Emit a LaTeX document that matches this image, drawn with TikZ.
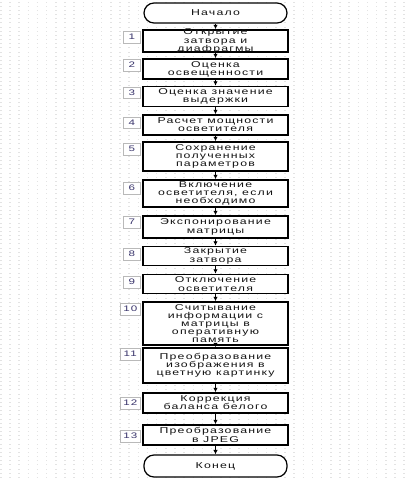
\documentclass[tikz,border=0pt]{standalone}
\usepackage{fontspec}
\newfontfamily\flowfont[FakeStretch=1.45,LetterSpace=14]{Liberation Sans}
\usetikzlibrary{arrows.meta}
\definecolor{numcol}{rgb}{0.22,0.2,0.42}
\definecolor{textcol}{rgb}{0.08,0.08,0.08}
\begin{document}
\begin{tikzpicture}[x=1pt, y=-1pt,
  every node/.style={font=\flowfont\fontsize{8.5}{8.2}\selectfont, text=textcol},
  griddot/.style={draw=gray!22, line width=0.8pt, dash pattern=on 1.5pt off 7.67pt},
  stepbox/.style={draw, line width=1.5pt, fill=white, minimum width=145pt, inner sep=0pt},
  steptext/.style={align=center, inner sep=0pt},
  termbox/.style={draw, line width=1.2pt, fill=white, rounded corners=10pt, minimum width=143pt, inner sep=0pt},
  numbox/.style={draw=gray!55, fill=white, text=numcol, minimum width=17pt, minimum height=11.5pt,
    inner sep=1pt, anchor=east, font=\flowfont\fontsize{8}{8}\selectfont},
  flow/.style={-{Latex[length=4.5pt,width=4.5pt]}, line width=1pt}]
  \useasboundingbox (0,0) rectangle (410,479);

  % dotted sheet
  \foreach \y in {2,6.17,...,479}
    \draw[griddot] (0,\y) -- (410,\y);

  % start and end
  \node[termbox, minimum height=20pt, label={[steptext]center:Начало}] (start) at (215.5,13) {};
  \node[termbox, minimum height=22pt, label={[steptext]center:Конец}] (stop) at (215.5,466) {};

  % steps
  \node[stepbox, minimum height=22pt, label={[steptext]center:{Открытие\\затвора и\\диафрагмы}}] (s1) at (215.5,41) {};
  \node[stepbox, minimum height=20pt, label={[steptext]center:{Оценка\\освещенности}}] (s2) at (215.5,69) {};
  \node[stepbox, minimum height=20pt, label={[steptext]center:{Оценка значение\\выдержки}}] (s3) at (215.5,96.5) {};
  \node[stepbox, minimum height=20pt, label={[steptext]center:{Расчет мощности\\осветителя}}] (s4) at (215.5,125) {};
  \node[stepbox, minimum height=29pt, label={[steptext]center:{Сохранение\\полученных\\параметров}}] (s5) at (215.5,156.5) {};
  \node[stepbox, minimum height=27pt, label={[steptext]center:{Включение\\осветителя, если\\необходимо}}] (s6) at (215.5,193.5) {};
  \node[stepbox, minimum height=22pt, label={[steptext]center:{Экспонирование\\матрицы}}] (s7) at (215.5,227) {};
  \node[stepbox, minimum height=19pt, label={[steptext]center:{Закрытие\\затвора}}] (s8) at (215.5,256) {};
  \node[stepbox, minimum height=19pt, label={[steptext]center:{Отключение\\осветителя}}] (s9) at (215.5,284) {};
  \node[stepbox, minimum height=43pt, label={[steptext]center:{Считывание\\информации с\\матрицы в\\оперативную\\память}}] (s10) at (215.5,323.5) {};
  \node[stepbox, minimum height=35pt, label={[steptext]center:{Преобразование\\изображения в\\цветную картинку}}] (s11) at (215.5,365.5) {};
  \node[stepbox, minimum height=20pt, label={[steptext]center:{Коррекция\\баланса белого}}] (s12) at (215.5,403) {};
  \node[stepbox, minimum height=20pt, label={[steptext]center:{Преобразование\\в JPEG}}] (s13) at (215.5,435) {};

  % step numbers
  \node[numbox] (n1) at (140.5,37) {1};
  \node[numbox] (n2) at (140.5,65) {2};
  \node[numbox] (n3) at (140.5,92.5) {3};
  \node[numbox] (n4) at (140.5,122.5) {4};
  \node[numbox] (n5) at (140.5,149) {5};
  \node[numbox] (n6) at (140.5,188) {6};
  \node[numbox] (n7) at (140.5,222) {7};
  \node[numbox] (n8) at (140.5,254) {8};
  \node[numbox] (n9) at (140.5,282) {9};
  \node[numbox, minimum width=20pt] (n10) at (140.5,309) {10};
  \node[numbox, minimum width=20pt] (n11) at (140.5,354) {11};
  \node[numbox, minimum width=20pt] (n12) at (140.5,403) {12};
  \node[numbox, minimum width=20pt] (n13) at (140.5,436) {13};

  % arrows
  \foreach \a/\b in {start/s1, s1/s2, s2/s3, s3/s4, s4/s5, s5/s6, s6/s7, s7/s8,
                     s8/s9, s9/s10, s10/s11, s11/s12, s12/s13, s13/stop}
    \draw[flow] (\a) -- (\b);
\end{tikzpicture}
\end{document}
